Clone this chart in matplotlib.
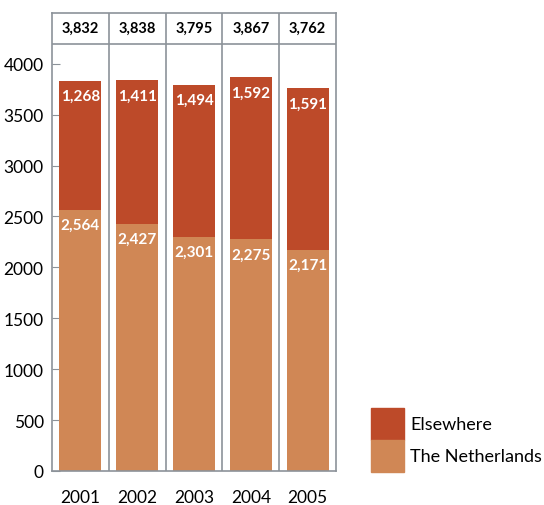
import matplotlib
matplotlib.use("Agg")
import matplotlib.pyplot as plt
from matplotlib.patches import Rectangle

years = ["2001", "2002", "2003", "2004", "2005"]
netherlands = [2564, 2427, 2301, 2275, 2171]
elsewhere = [1268, 1411, 1494, 1592, 1591]
totals = [3832, 3838, 3795, 3867, 3762]
legend_labels = ["Elsewhere", "The Netherlands"]

c_nl = "#d08755"
c_else = "#bd4a29"
grey = "#8c9299"

plt.rcParams["font.family"] = ["Lato", "DejaVu Sans"]

W, H = 544, 506
fig = plt.figure(figsize=(W / 100, H / 100), dpi=100)
ax = fig.add_axes([52 / W, 34 / H, 284 / W, 458 / H])

x = list(range(len(years)))
w = 0.74
ax.bar(x, netherlands, width=w, color=c_nl, zorder=2)
ax.bar(x, elsewhere, width=w, bottom=netherlands, color=c_else, zorder=2)

for i in x:
    ax.annotate(f"{netherlands[i]:,}", (i, netherlands[i]), xytext=(0, -11),
                textcoords="offset points", ha="center", va="center",
                color="white", fontsize=11, fontweight="bold")
    ax.annotate(f"{elsewhere[i]:,}", (i, totals[i]), xytext=(0, -11),
                textcoords="offset points", ha="center", va="center",
                color="white", fontsize=11, fontweight="bold")
    # totals sit in the boxed strip above the plot
    ax.text(i, 4350, f"{totals[i]:,}", ha="center", va="center",
            fontsize=10.5, fontweight="bold", color="black")

ax.set_xlim(-0.5, 4.5)
ax.set_ylim(0, 4499)
for s in ["left", "bottom", "top", "right"]:
    ax.spines[s].set_color(grey)
    ax.spines[s].set_linewidth(1.2)
for xs in [0.5, 1.5, 2.5, 3.5]:
    ax.axvline(xs, color=grey, lw=1.2, zorder=1)
ax.axhline(4195, color=grey, lw=1.2)

ax.set_yticks(range(0, 4001, 500))
ax.tick_params(axis="y", direction="in", length=6, color=grey, labelsize=12.5, pad=6)
ax.set_xticks(x)
ax.set_xticklabels(years)
ax.tick_params(axis="x", length=0, labelsize=12.5, pad=13)

# legend drawn by hand: two stacked swatches
for k, (lab, col) in enumerate(zip(legend_labels, [c_else, c_nl])):
    y0 = (H - 441 - 32 * k) / H
    fig.patches.append(Rectangle((371 / W, y0), 33 / W, 32 / H,
                                 transform=fig.transFigure, color=col, figure=fig))
    fig.text(410 / W, y0 + 16 / H, lab, ha="left", va="center", fontsize=13)

fig.savefig("out.png", dpi=100)
